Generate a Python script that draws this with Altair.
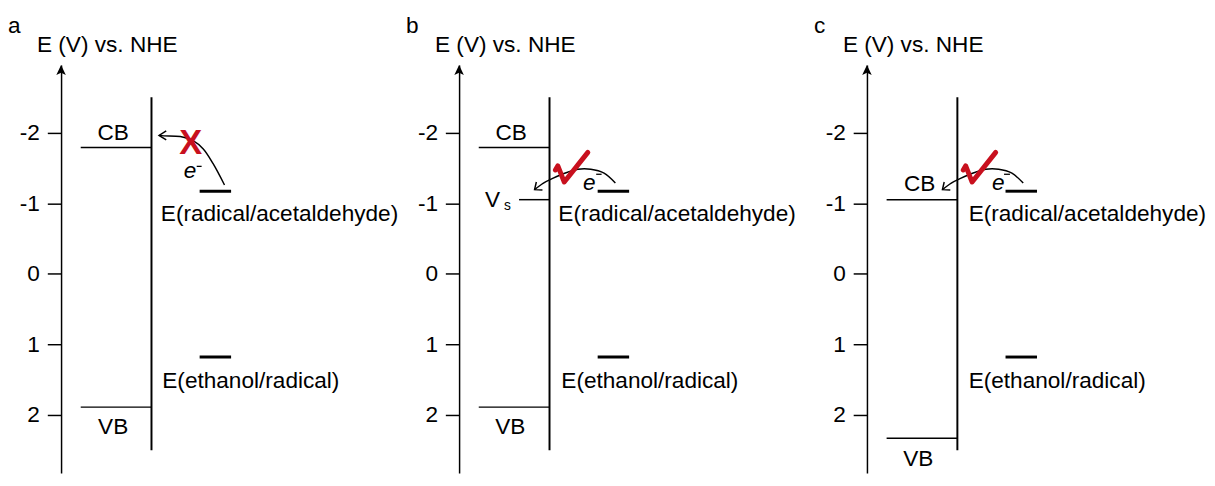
import altair as alt
import pandas as pd

FONT = "Liberation Sans"
RED = "#c8101e"

# ---------------- data (schematic units: x = horizontal position, interface at 0; E in V vs. NHE)
panels = ["a", "b", "c"]
tick_values = [-2, -1, 0, 1, 2]

# semiconductor energy levels
level_panel = ["a", "a", "b", "b", "b", "c", "c"]
level_E = [-1.79, 1.89, -1.79, -1.05, 1.89, -1.05, 2.33]
level_x0 = [-7.2, -7.2, -7.2, -3.1, -7.2, -7.2, -7.2]
level_x1 = [0, 0, 0, 0, 0, 0, 0]

band_label_panel = ["a", "a", "b", "b", "c", "c"]
band_label_text = ["CB", "VB", "CB", "VB", "CB", "VB"]
band_label_x = [-3.9, -3.9, -3.9, -4.0, -3.83, -3.98]
band_label_E = [-1.99, 2.17, -1.99, 2.17, -1.27, 2.62]

# surface state label (panel b)
vs_main = ["V"]
vs_sub = ["s"]
vs_x = [-5.8]
vs_E = [-1.05]
vs_sub_x = [-4.28]
vs_sub_E = [-0.96]

# interface (semiconductor surface)
interface_x = [0]
interface_E0 = [-2.5]
interface_E1 = [2.5]

# redox couples
redox_names = ["E(radical/acetaldehyde)", "E(ethanol/radical)"]
redox_E = [-1.17, 1.18]
redox_x0 = [4.9, 4.9]
redox_x1 = [8.1, 8.1]
redox_label_E = [-0.84, 1.52]
redox_label_x = {"a": [0.95, 1.1], "b": [0.9, 1.2], "c": [1.15, 1.15]}

# electron-transfer arrow, panel a (blocked)
arrow_a_x = [7.43, 6.27, 5.27, 4.27, 2.93, 1.27, 0.77]
arrow_a_E = [-1.258, -1.560, -1.769, -1.884, -1.944, -1.954, -1.961]
head_a_x = [1.5, 0.77, 1.5]
head_a_E = [-2.024, -1.961, -1.898]

# electron-transfer arrow, panels b and c (allowed)
arrow_bc_x = [6.7, 5.55, 4.2, 2.88, 1.55, 0.38, -0.62, -1.52]
arrow_bc_E = [-1.285, -1.425, -1.481, -1.481, -1.425, -1.355, -1.285, -1.192]
head_bc_x = [-1.34, -1.52, -0.72]
head_bc_E = [-1.300, -1.192, -1.186]

# e- labels
e_x = {"a": 3.93, "b": 4.05, "c": 4.17}
e_E = {"a": -1.453, "b": -1.286, "c": -1.286}
minus_x0 = {"a": 4.6, "b": 4.75, "c": 4.75}
minus_x1 = {"a": 5.1, "b": 5.3, "c": 5.35}
minus_E = {"a": -1.522, "b": -1.41, "c": -1.41}

# red X (panel a) and check marks (panels b, c)
cross_x = [4.0]
cross_E = [-1.85]
check_x = [0.6, 0.85, 1.5, 3.9]
check_E = [-1.47, -1.53, -1.30, -1.72]

# ---------------- layout / scales
Y_TOP, Y_BOT = -2.957, 2.823
PLOT_H = 415
PANEL_W = {"a": 346, "b": 356, "c": 326}
X_MIN = -9.2

yscale = alt.Scale(domain=[Y_TOP, Y_BOT], reverse=True, nice=False, zero=False)
yaxis = alt.Axis(
    values=tick_values, labelExpr="'' + datum.value",
    title="E (V) vs. NHE", titleAngle=0, titleAlign="left", titleBaseline="alphabetic",
    titleX=-25, titleY=-14, titleFont=FONT, titleFontSize=23, titleFontWeight="normal",
    titleColor="black", labelFont=FONT, labelFontSize=23, labelColor="black",
    labelPadding=8, tickSize=14, tickWidth=1.5, tickColor="black",
    domainColor="black", domainWidth=1.5, grid=False, labelOverlap=False,
)


def xs(p):
    return alt.Scale(domain=[X_MIN, X_MIN + PANEL_W[p] / 10], nice=False, zero=False)


def X(field, p):
    return alt.X(f"{field}:Q", scale=xs(p), axis=None)


def Y(field):
    return alt.Y(f"{field}:Q", scale=yscale, axis=yaxis)


def panel(p):
    layers = []
    lv = pd.DataFrame({"panel": level_panel, "E": level_E, "x0": level_x0, "x1": level_x1})
    lv = lv[lv.panel == p]
    layers.append(alt.Chart(lv).mark_rule(color="black", strokeWidth=1.5).encode(
        x=X("x0", p), x2="x1:Q", y=Y("E")))

    itf = pd.DataFrame({"x": interface_x, "E0": interface_E0, "E1": interface_E1})
    layers.append(alt.Chart(itf).mark_rule(color="black", strokeWidth=2).encode(
        x=X("x", p), y=Y("E0"), y2="E1:Q"))

    rd = pd.DataFrame({"name": redox_names, "E": redox_E, "x0": redox_x0, "x1": redox_x1,
                       "lE": redox_label_E, "lx": redox_label_x[p]})
    layers.append(alt.Chart(rd).mark_rule(color="black", strokeWidth=3).encode(
        x=X("x0", p), x2="x1:Q", y=Y("E")))
    layers.append(alt.Chart(rd).mark_text(font=FONT, fontSize=23, align="left",
                                          baseline="middle", color="black").encode(
        x=X("lx", p), y=Y("lE"), text="name:N"))

    bl = pd.DataFrame({"panel": band_label_panel, "t": band_label_text,
                       "x": band_label_x, "E": band_label_E})
    bl = bl[bl.panel == p]
    layers.append(alt.Chart(bl).mark_text(font=FONT, fontSize=23, align="center",
                                          baseline="middle", color="black").encode(
        x=X("x", p), y=Y("E"), text="t:N"))

    if p == "b":
        vs = pd.DataFrame({"t": vs_main, "x": vs_x, "E": vs_E})
        layers.append(alt.Chart(vs).mark_text(font=FONT, fontSize=23, align="center",
                                              baseline="middle", color="black").encode(
            x=X("x", p), y=Y("E"), text="t:N"))
        vss = pd.DataFrame({"t": vs_sub, "x": vs_sub_x, "E": vs_sub_E})
        layers.append(alt.Chart(vss).mark_text(font=FONT, fontSize=14, align="center",
                                               baseline="middle", color="black").encode(
            x=X("x", p), y=Y("E"), text="t:N"))

    if p == "a":
        ax, aE, hx, hE = arrow_a_x, arrow_a_E, head_a_x, head_a_E
    else:
        ax, aE, hx, hE = arrow_bc_x, arrow_bc_E, head_bc_x, head_bc_E
    arr = pd.DataFrame({"x": ax, "E": aE, "i": list(range(len(ax)))})
    layers.append(alt.Chart(arr).mark_line(color="black", strokeWidth=1.5,
                                           interpolate="catmull-rom").encode(
        x=X("x", p), y=Y("E"), order="i:Q"))
    hd = pd.DataFrame({"x": hx, "E": hE, "i": list(range(len(hx)))})
    layers.append(alt.Chart(hd).mark_line(color="black", strokeWidth=1.5).encode(
        x=X("x", p), y=Y("E"), order="i:Q"))

    ed = pd.DataFrame({"t": ["e"], "x": [e_x[p]], "E": [e_E[p]]})
    layers.append(alt.Chart(ed).mark_text(font=FONT, fontSize=23, fontStyle="italic",
                                          align="center", baseline="middle",
                                          color="black").encode(
        x=X("x", p), y=Y("E"), text="t:N"))
    md = pd.DataFrame({"x0": [minus_x0[p]], "x1": [minus_x1[p]], "E": [minus_E[p]]})
    layers.append(alt.Chart(md).mark_rule(color="black", strokeWidth=1.3).encode(
        x=X("x0", p), x2="x1:Q", y=Y("E")))

    if p == "a":
        cd = pd.DataFrame({"t": ["X"], "x": cross_x, "E": cross_E})
        layers.append(alt.Chart(cd).mark_text(font=FONT, fontSize=35, fontWeight="bold",
                                              align="center", baseline="middle",
                                              color=RED).encode(
            x=X("x", p), y=Y("E"), text="t:N"))
    else:
        ck = pd.DataFrame({"x": check_x, "E": check_E, "i": list(range(len(check_x)))})
        layers.append(alt.Chart(ck).mark_line(color=RED, strokeWidth=5, strokeJoin="round",
                                              strokeCap="round").encode(
            x=X("x", p), y=Y("E"), order="i:Q"))

    tip = pd.DataFrame({"x": [X_MIN], "E": [Y_TOP]})
    layers.append(alt.Chart(tip).mark_point(
        shape="M0,-1L0.85,0.75L0,0.35L-0.85,0.75Z", filled=True, color="black",
        opacity=1, size=130, yOffset=5.7, strokeWidth=0).encode(
        x=X("x", p), y=Y("E")))

    return alt.layer(*layers).properties(
        width=PANEL_W[p], height=PLOT_H,
        title=alt.TitleParams(text=p, anchor="start", frame="group", dx=-54, offset=-22,
                              baseline="alphabetic", orient="top", font=FONT,
                              fontSize=23, fontWeight="normal", color="black"),
    )


chart = alt.hconcat(*[panel(p) for p in panels], spacing=5).properties(
    padding={"top": 3, "left": 0, "right": 0, "bottom": 0},
    background="white",
).configure_view(stroke=None)

chart.save("out.html", embed_options={"renderer": "svg", "actions": False})
